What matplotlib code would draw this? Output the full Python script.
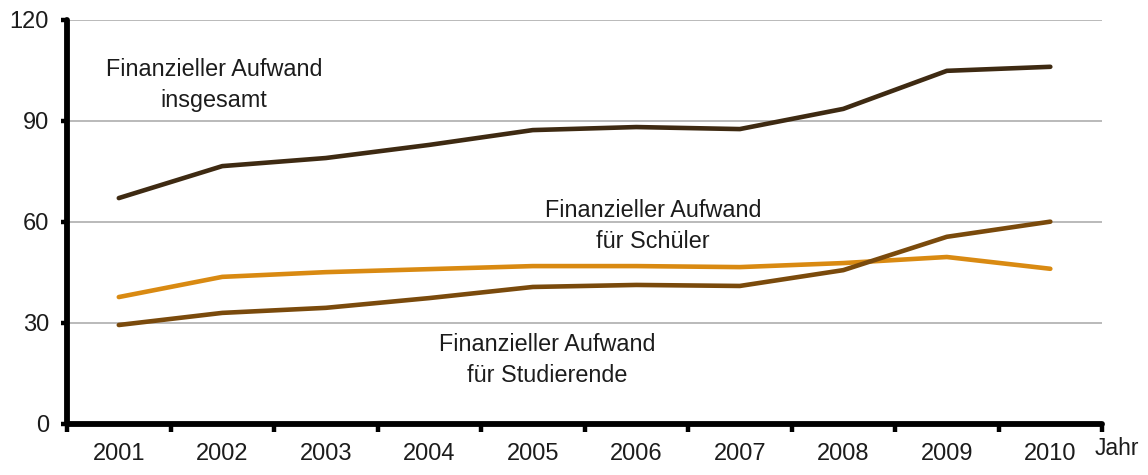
import matplotlib.pyplot as plt
from matplotlib.ticker import FixedLocator, NullFormatter

plt.rcParams['font.family'] = ['Liberation Sans', 'DejaVu Sans']

# Jahre und Werte
jahre = ['2001', '2002', '2003', '2004', '2005', '2006', '2007', '2008', '2009', '2010']
insgesamt   = [67.1, 76.6, 79.0, 82.9, 87.3, 88.2, 87.6, 93.6, 104.9, 106.1]
schueler    = [37.7, 43.7, 45.1, 46.0, 46.9, 46.9, 46.6, 47.8, 49.6, 46.1]
studierende = [29.4, 33.0, 34.5, 37.4, 40.7, 41.3, 41.0, 45.7, 55.6, 60.1]

c_ges = '#3e2a12'
c_sch = '#d98a12'
c_stu = '#7a4a0c'
c_txt = '#1c1c1c'

fig = plt.figure(figsize=(11.48, 4.75), dpi=100)
ax = fig.add_axes([0.0584, 0.1074, 0.9016, 0.8505])

x = range(len(jahre))
ax.plot(x, insgesamt, color=c_ges, lw=3.3, solid_capstyle='round', zorder=3)
ax.plot(x, schueler, color=c_sch, lw=3.3, solid_capstyle='round', zorder=3)
ax.plot(x, studierende, color=c_stu, lw=3.3, solid_capstyle='round', zorder=3)

ax.set_xlim(-0.5, len(jahre) - 0.5)
ax.set_ylim(0, 120)
ax.set_yticks([0, 30, 60, 90, 120])
ax.yaxis.grid(True, color='#b4b4b4', lw=1.3)
ax.set_axisbelow(True)

# Striche zwischen den Kategorien, Beschriftung in der Mitte
ax.xaxis.set_major_locator(FixedLocator([i - 0.5 for i in range(len(jahre) + 1)]))
ax.xaxis.set_major_formatter(NullFormatter())
ax.xaxis.set_minor_locator(FixedLocator(list(x)))
ax.set_xticklabels(jahre, minor=True)
ax.tick_params(axis='x', which='major', direction='out', length=6, width=3.2, color='black')
ax.tick_params(axis='x', which='minor', length=0, pad=14, labelsize=17, labelcolor=c_txt)
ax.tick_params(axis='y', direction='out', length=4, width=3.2, pad=9, labelsize=17, labelcolor=c_txt)

for s in ['top', 'right']:
    ax.spines[s].set_visible(False)
for s in ['left', 'bottom']:
    ax.spines[s].set_linewidth(4.2)
    ax.spines[s].set_capstyle('round')

ax.text(0.92, 100.7, 'Finanzieller Aufwand\ninsgesamt', ha='center', va='center',
        fontsize=16.8, linespacing=1.45, color=c_txt)
ax.text(5.16, 58.8, 'Finanzieller Aufwand\nfür Schüler', ha='center', va='center',
        fontsize=16.8, linespacing=1.45, color=c_txt)
ax.text(4.14, 19.0, 'Finanzieller Aufwand\nfür Studierende', ha='center', va='center',
        fontsize=16.8, linespacing=1.45, color=c_txt)

ax.annotate('Jahr', xy=(1.0, 0), xycoords='axes fraction', xytext=(-7, -25),
            textcoords='offset pixels', ha='left', va='center', fontsize=16.5, color=c_txt)

fig.savefig('out.png', dpi=100)
